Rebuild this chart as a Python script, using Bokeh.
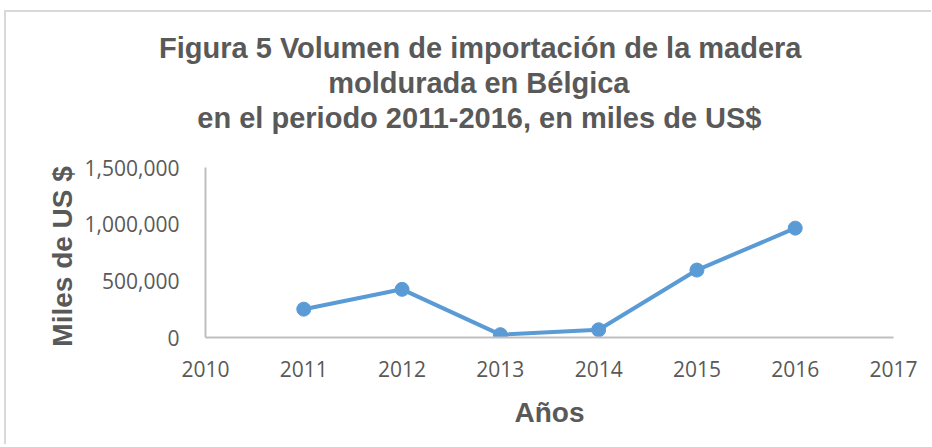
from bokeh.plotting import figure
from bokeh.models import FixedTicker, NumeralTickFormatter, Range1d, Title
from bokeh.embed import file_html
from bokeh.resources import INLINE

years = [2011, 2012, 2013, 2014, 2015, 2016]
values = [250000, 425000, 25000, 68000, 595000, 965000]
x_ticks = [2010, 2011, 2012, 2013, 2014, 2015, 2016, 2017]
y_ticks = [0, 500000, 1000000, 1500000]
title_lines = [
    "Figura 5 Volumen de importación de la madera",
    "moldurada en Bélgica",
    "en el periodo 2011-2016, en miles de US$",
]
x_title = "Años"
y_title = "Miles  de US $"

GRAY = "#595959"
BLUE = "#5B9BD5"

p = figure(
    output_backend="svg", toolbar_location=None,
    frame_width=688, frame_height=170,
    min_border_left=199, min_border_top=155, min_border_right=38, min_border_bottom=107,
    x_range=Range1d(2010, 2017), y_range=Range1d(0, 1500000),
)
p.styles = {"border-top": "2px solid #d9d9d9", "border-left": "2px solid #d9d9d9",
            "margin-top": "10px", "margin-left": "4px"}
p.outline_line_color = None
p.xgrid.visible = False
p.ygrid.visible = False

for ax in (p.xaxis[0], p.yaxis[0]):
    ax.major_tick_line_color = None
    ax.minor_tick_line_color = None
    ax.axis_line_color = "#bfbfbf"
    ax.axis_line_width = 2
    ax.major_label_text_font = "Open Sans"
    ax.major_label_text_font_size = "21px"
    ax.major_label_text_color = GRAY
    ax.axis_label_text_font = "Liberation Sans"
    ax.axis_label_text_font_style = "bold"
    ax.axis_label_text_font_size = "28px"
    ax.axis_label_text_color = GRAY

p.xaxis.ticker = FixedTicker(ticks=x_ticks)
p.yaxis.ticker = FixedTicker(ticks=y_ticks)
p.yaxis.formatter = NumeralTickFormatter(format="0,0")
p.xaxis.axis_label = x_title
p.yaxis.axis_label = y_title
p.yaxis.major_label_standoff = 20
p.yaxis.axis_label_standoff = 4
p.xaxis.major_label_standoff = 17
p.xaxis.axis_label_standoff = 17

p.line(years, values, line_color=BLUE, line_width=4)
p.scatter(years, values, size=14, fill_color=BLUE, line_color=BLUE)

# spacer between the frame and the title block
p.add_layout(Title(text=" ", text_font_size="1px", standoff=30), "above")

# title lines, stacked outward from the frame (last line first)
offsets = [92, 264, 132]
for txt, off in reversed(list(zip(title_lines, offsets))):
    p.add_layout(Title(text=txt, align="right", offset=off, standoff=1,
                       text_font="Liberation Sans", text_font_style="bold",
                       text_font_size="29px", text_color=GRAY), "above")

open("out.html", "w").write(file_html(p, INLINE))
